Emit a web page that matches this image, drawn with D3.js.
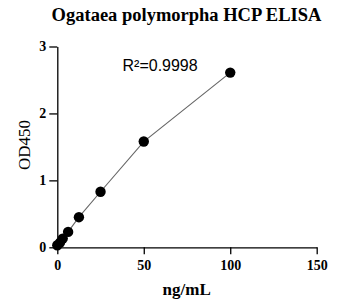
<!DOCTYPE html>
<html>
<head>
<meta charset="utf-8">
<script src="https://cdn.jsdelivr.net/npm/d3@7"></script>
<style>
  body { margin: 0; background: #fff; }
  svg { display: block; }
</style>
</head>
<body>
<svg></svg>
<script>
// data
let conc = [0, 1.5625, 3.125, 6.25, 12.5, 25, 50, 100]
let od450 = [0.03, 0.07, 0.13, 0.23, 0.45, 0.83, 1.58, 2.61]
let xTicks = [0, 50, 100, 150]
let yTicks = [0, 1, 2, 3]
let title = 'Ogataea polymorpha HCP ELISA'
let rSquared = 'R\u00b2=0.9998'

let width = 358
let height = 303
let svg = d3.select('svg')
    .attr('width', width)
    .attr('height', height)

// plot area
let plotL = 57.3, plotR = 316.7, plotT = 46.5, plotB = 247.3

let xScale = d3.scaleLinear().domain([0, 150]).range([plotL, plotR])
let yScale = d3.scaleLinear().domain([0, 3]).range([plotB, plotT])

let serif = '"Liberation Serif", "Times New Roman", serif'

// axes
let xAxis = d3.axisBottom(xScale).tickValues(xTicks).tickFormat(d3.format('d'))
    .tickSizeInner(7).tickSizeOuter(0).tickPadding(6)
let yAxis = d3.axisLeft(yScale).tickValues(yTicks).tickFormat(d3.format('d'))
    .tickSizeInner(8).tickSizeOuter(0).tickPadding(3)

let gx = svg.append('g')
    .attr('transform', 'translate(0,' + plotB + ')')
    .call(xAxis)
let gy = svg.append('g')
    .attr('transform', 'translate(' + plotL + ',0)')
    .call(yAxis)

;[gx, gy].forEach(g => {
    g.selectAll('path, line').attr('stroke', '#000').attr('stroke-width', 1.3)
    g.selectAll('text')
        .attr('fill', '#000')
        .style('font-family', serif)
        .style('font-weight', 'bold')
        .style('font-size', '14px')
})

// curve line
svg.append('path')
    .datum(conc.map((c, i) => [c, od450[i]]))
    .attr('fill', 'none')
    .attr('stroke', '#666')
    .attr('stroke-width', 1.1)
    .attr('d', d3.line().x(d => xScale(d[0])).y(d => yScale(d[1])))

// points
svg.append('g').selectAll('circle')
    .data(conc)
    .enter()
    .append('circle')
    .attr('cx', d => xScale(d))
    .attr('cy', (d, i) => yScale(od450[i]))
    .attr('r', 5.2)
    .attr('fill', '#000')

// title
svg.append('text')
    .text(title)
    .attr('x', 186.5)
    .attr('y', 21)
    .attr('text-anchor', 'middle')
    .style('font-family', serif)
    .style('font-weight', 'bold')
    .style('font-size', '18.5px')

// R squared
svg.append('text')
    .text(rSquared)
    .attr('x', 122.5)
    .attr('y', 71)
    .style('font-family', '"Liberation Sans", Arial, sans-serif')
    .style('font-size', '16px')

// axis titles
svg.append('text')
    .text('ng/mL')
    .attr('x', 186.7)
    .attr('y', 295)
    .attr('text-anchor', 'middle')
    .style('font-family', serif)
    .style('font-weight', 'bold')
    .style('font-size', '17px')

svg.append('text')
    .text('OD450')
    .attr('transform', 'translate(30,145) rotate(-90)')
    .attr('text-anchor', 'middle')
    .style('font-family', serif)
    .style('font-size', '17px')
</script>
</body>
</html>
